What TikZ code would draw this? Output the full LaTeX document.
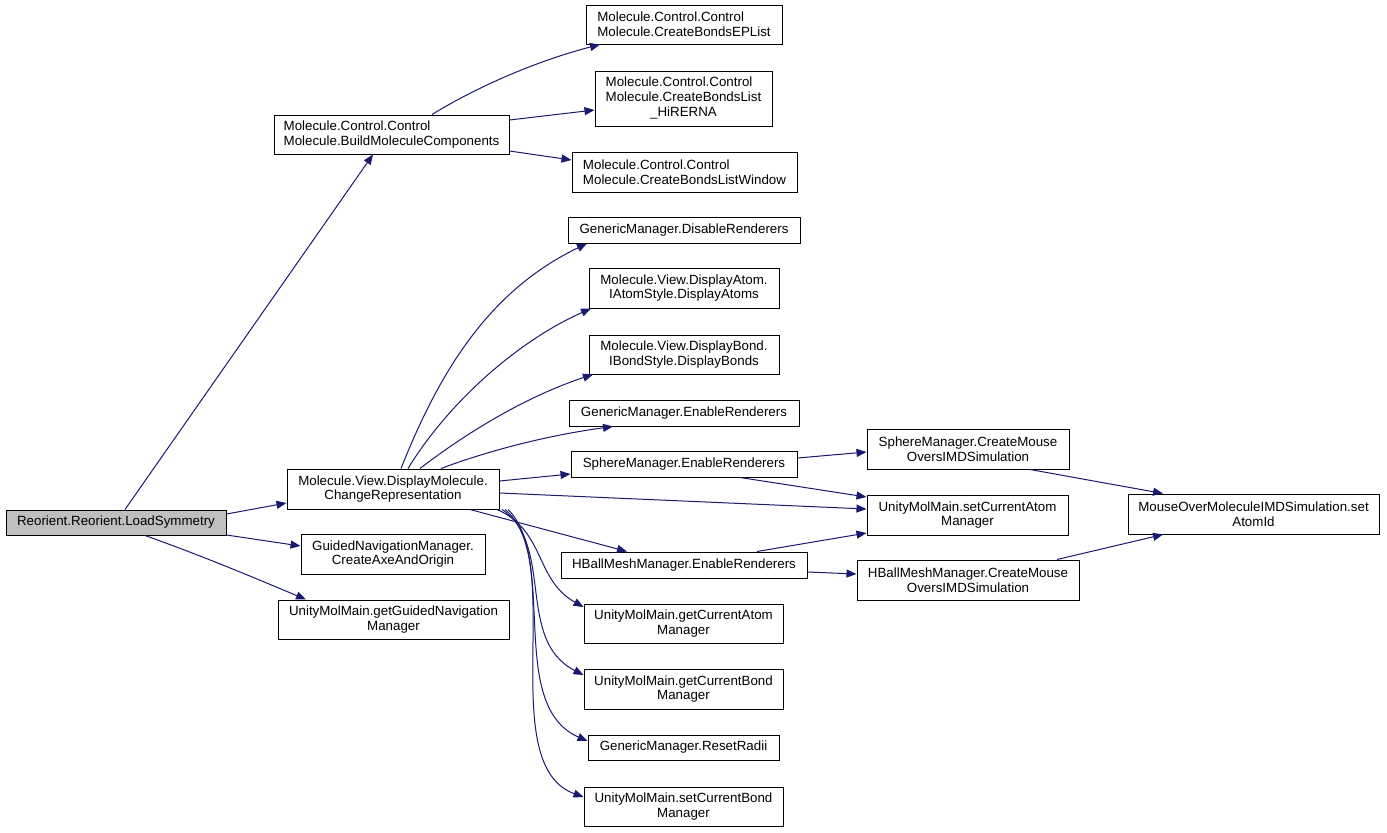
\documentclass[tikz,border=0pt]{standalone}
\usepackage{fontspec}
\setmainfont{Liberation Sans}
\usetikzlibrary{arrows.meta,fit}
\definecolor{edgeblue}{HTML}{191970}
\definecolor{rootgray}{HTML}{BFBFBF}
\begin{document}
\begin{tikzpicture}[x=0.75pt,y=-0.75pt,
  box/.style={draw=black, line width=0.75pt, inner sep=0pt},
  ctext/.style={align=center, inner sep=0pt, font=\fontsize{10}{11}\selectfont},
  ltext/.style={align=left, inner sep=0pt, font=\fontsize{10}{11}\selectfont},
  call/.style={draw=edgeblue, line width=0.75pt, -{Triangle[length=7.5pt,width=6pt]}}]
\useasboundingbox (0,0) rectangle (1387,832);
% nodes
\node[box, fill=rootgray, fit={(6,510) (226,535)}, label={[ctext]center:Reorient.Reorient.LoadSymmetry}] (ls) {};
\node[box, fit={(274,115) (509,154)}, label={[ltext]center:Molecule.Control.Control\\Molecule.BuildMoleculeComponents}] (bmc) {};
\node[box, fit={(586,5) (782,44)}, label={[ltext]center:Molecule.Control.Control\\Molecule.CreateBondsEPList}] (ep) {};
\node[box, fit={(595,71) (772,126)}, label={[ctext]center:{\begin{tabular}{@{}l@{}}Molecule.Control.Control\\Molecule.CreateBondsList\\\multicolumn{1}{@{}c@{}}{\_HiRERNA}\end{tabular}}}] (hi) {};
\node[box, fit={(572,152) (797,192)}, label={[ltext]center:Molecule.Control.Control\\Molecule.CreateBondsListWindow}] (win) {};
\node[box, fit={(568,217) (800,243)}, label={[ctext]center:GenericManager.DisableRenderers}] (dis) {};
\node[box, fit={(589,268) (779,308)}, label={[ctext]center:Molecule.View.DisplayAtom.\\IAtomStyle.DisplayAtoms}] (atoms) {};
\node[box, fit={(589,335) (779,374)}, label={[ctext]center:Molecule.View.DisplayBond.\\IBondStyle.DisplayBonds}] (bonds) {};
\node[box, fit={(569,400) (799,426)}, label={[ctext]center:GenericManager.EnableRenderers}] (en) {};
\node[box, fit={(571,451) (797,477)}, label={[ctext]center:SphereManager.EnableRenderers}] (sph) {};
\node[box, fit={(287,469) (499,509)}, label={[ctext]center:Molecule.View.DisplayMolecule.\\ChangeRepresentation}] (cr) {};
\node[box, fit={(301,534) (485,574)}, label={[ctext]center:GuidedNavigationManager.\\CreateAxeAndOrigin}] (gn) {};
\node[box, fit={(278,600) (509,639)}, label={[ctext]center:UnityMolMain.getGuidedNavigation\\Manager}] (ggn) {};
\node[box, fit={(561,552) (807,578)}, label={[ctext]center:HBallMeshManager.EnableRenderers}] (hb) {};
\node[box, fit={(584,604) (783,643)}, label={[ctext]center:UnityMolMain.getCurrentAtom\\Manager}] (gca) {};
\node[box, fit={(584,669) (783,709)}, label={[ctext]center:UnityMolMain.getCurrentBond\\Manager}] (gcb) {};
\node[box, fit={(588,735) (779,760)}, label={[ctext]center:GenericManager.ResetRadii}] (rr) {};
\node[box, fit={(584,787) (783,826)}, label={[ctext]center:UnityMolMain.setCurrentBond\\Manager}] (scb) {};
\node[box, fit={(867,429) (1069,469)}, label={[ctext]center:SphereManager.CreateMouse\\OversIMDSimulation}] (smo) {};
\node[box, fit={(867,495) (1068,535)}, label={[ctext]center:UnityMolMain.setCurrentAtom\\Manager}] (sca) {};
\node[box, fit={(857,560) (1079,600)}, label={[ctext]center:HBallMeshManager.CreateMouse\\OversIMDSimulation}] (hmo) {};
\node[box, fit={(1128,494) (1379,534)}, label={[ctext]center:MouseOverMoleculeIMDSimulation.set\\AtomId}] (mo) {};
% edges from LoadSymmetry
\draw[call] (ls.north -| 125,0) -- (bmc.south -| 373,0);
\draw[call] (ls.east |- 0,514) -- (cr.west |- 0,503);
\draw[call] (ls.east |- 0,535) -- (gn.west |- 0,546);
\draw[call] (ls.south -| 145,0) .. controls (200,555) and (255,578) .. (ggn.north -| 306,0);
% edges from BuildMoleculeComponents
\draw[call] (bmc.north -| 432,0) .. controls (480,85) and (540,60) .. (ep.south -| 600,0);
\draw[call] (bmc.east |- 0,120) -- (hi.west |- 0,110);
\draw[call] (bmc.east |- 0,151) -- (win.west |- 0,160);
% edges from ChangeRepresentation
\draw[call] (cr.north -| 401,0) .. controls (440,370) and (490,290) .. (dis.south -| 587,0);
\draw[call] (cr.north -| 408,0) .. controls (450,400) and (520,340) .. (atoms.south -| 591,0);
\draw[call] (cr.north -| 420,0) .. controls (470,430) and (530,395) .. (bonds.south -| 593,0);
\draw[call] (cr.north -| 441,0) .. controls (490,450) and (550,435) .. (en.south -| 613,0);
\draw[call] (cr.east |- 0,481) -- (sph.west |- 0,474);
\draw[call] (cr.east |- 0,493) -- (sca.west |- 0,509);
\draw[call] (cr.south -| 470,0) -- (hb.north -| 627,0);
\draw[call] (cr.south -| 497,0) .. controls (545,530) and (535,580) .. (gca.west |- 0,607);
\draw[call] (cr.south -| 502,0) .. controls (555,545) and (515,640) .. (gcb.west |- 0,675);
\draw[call] (cr.south -| 505,0) .. controls (560,555) and (505,705) .. (rr.west |- 0,741);
\draw[call] (cr.south -| 508,0) .. controls (565,565) and (495,765) .. (scb.west |- 0,797);
% further edges
\draw[call] (sph.east |- 0,458) -- (smo.west |- 0,452);
\draw[call] (sph.south -| 740,0) -- (sca.west |- 0,497);
\draw[call] (hb.north -| 757,0) -- (sca.west |- 0,533);
\draw[call] (hb.east |- 0,572) -- (hmo.west |- 0,574);
\draw[call] (smo.south -| 1030,0) -- (mo.north -| 1163,0);
\draw[call] (hmo.north -| 1057,0) -- (mo.south -| 1163,0);
\end{tikzpicture}
\end{document}
